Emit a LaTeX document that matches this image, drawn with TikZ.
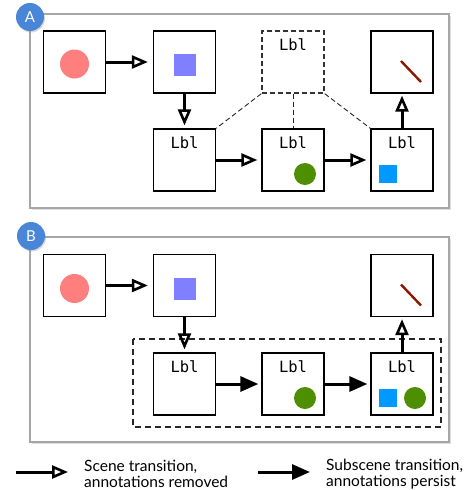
\documentclass[tikz,border=0pt]{standalone}
\usepackage{fontspec}
\setmainfont{Lato}
\setmonofont{DejaVu Sans Mono}
\usetikzlibrary{arrows.meta,shadows}
\definecolor{salmon}{HTML}{FF7F7F}
\definecolor{periwinkle}{HTML}{8080FF}
\definecolor{leaf}{HTML}{4E8F00}
\definecolor{azure}{HTML}{0099FF}
\definecolor{rust}{HTML}{8B1A00}
\definecolor{badgeblue}{HTML}{4A86D8}
\tikzset{
  >=latex,
  panel/.style = {draw=black!35, line width=1.3pt, fill=white,
                  drop shadow={shadow xshift=2pt, shadow yshift=-2pt, opacity=.25}},
  scene/.style = {draw, line width=1.3pt, fill=white, minimum size=62pt, inner sep=0},
  ghost/.style = {scene, dashed, draw=black!80, dash pattern=on 5pt off 3pt},
  lbl/.style = {label={[font=\ttfamily\fontsize{15.5}{15.5}\selectfont, anchor=north,
                inner sep=0, yshift=-8.5pt]north:Lbl}},
  disc/.style = {circle, fill=#1, inner sep=0, minimum size=22pt},
  tile/.style = {rectangle, fill=#1, inner sep=0, minimum size=18pt},
  badge/.style = {circle, fill=badgeblue, text=white, minimum size=28pt, inner sep=0,
                  font=\fontsize{15}{15}\selectfont,
                  drop shadow={shadow xshift=1pt, shadow yshift=-1.5pt, opacity=.3}},
  scenetrans/.style = {-{Triangle[open, length=16pt, width=13pt, line width=2.6pt]},
                  line width=3pt},
  subtrans/.style = {-{Triangle[length=18pt, width=15pt]}, line width=3pt},
  link/.style = {dashed, dash pattern=on 5pt off 3pt, line width=.9pt, black!85},
  group/.style = {draw=black!85, dashed, dash pattern=on 6pt off 4pt, line width=1.1pt},
  key/.style = {anchor=west, align=left, inner sep=0, font=\fontsize{15.5}{16.5}\selectfont},
}
\begin{document}
\begin{tikzpicture}[x=1pt, y=-1pt]
\useasboundingbox (0,0) rectangle (469,490);

% panel A
\draw[panel] (30,14) rectangle (449,208);
\node[badge] (ba) at (30,17) {A};
\node[scene] (a1) at (74.5,62) {};
\node[scene] (a2) at (184.5,62) {};
\node[ghost, lbl] (a4) at (293,62) {};
\node[scene] (a7) at (402,62) {};
\node[scene, lbl] (a3) at (184.5,160) {};
\node[scene, lbl] (a5) at (293,160) {};
\node[scene, lbl] (a6) at (402,160) {};
\node[disc=salmon, minimum size=29pt] (a1c) at ([yshift=-2pt]a1.center) {};
\node[tile=periwinkle, minimum size=22pt] (a2s) at ([yshift=-3pt]a2.center) {};
\node[disc=leaf] (a5c) at ([xshift=12pt,yshift=-14pt]a5.center) {};
\node[tile=azure] (a6s) at ([xshift=-14pt,yshift=-14pt]a6.center) {};
\coordinate (a7p) at ([xshift=-1pt,yshift=1pt]a7.center);
\coordinate (a7q) at ([xshift=19pt,yshift=-20pt]a7.center);
\draw[rust, line width=2.4pt] (a7p) -- (a7q);
\draw[link] (a4.south west) -- (a3.north east);
\draw[link] (a4.south) -- (a5.north);
\draw[link] (a4.south east) -- (a6.north west);
\draw[scenetrans, shorten >=5pt] (a1) -- (a2);
\draw[scenetrans, shorten >=3pt] (a2) -- (a3);
\draw[scenetrans, shorten >=4pt] (a3) -- (a5);
\draw[scenetrans, shorten >=4pt] (a5) -- (a6);
\draw[scenetrans, shorten >=2pt] (a6) -- (a7);

% panel B
\draw[panel] (30,237) rectangle (449,442);
\node[badge] (bb) at (31,236) {B};
\draw[group] (133,339) rectangle (441,427);
\node[scene] (b1) at (74.5,285.5) {};
\node[scene] (b2) at (184.5,285.5) {};
\node[scene] (b7) at (402,285.5) {};
\node[scene, lbl] (b3) at (184.5,384) {};
\node[scene, lbl] (b5) at (293,384) {};
\node[scene, lbl] (b6) at (402,384) {};
\node[disc=salmon, minimum size=29pt] (b1c) at ([yshift=-3pt]b1.center) {};
\node[tile=periwinkle, minimum size=22pt] (b2s) at ([yshift=-3pt]b2.center) {};
\node[disc=leaf] (b5c) at ([xshift=12pt,yshift=-14pt]b5.center) {};
\node[tile=azure] (b6s) at ([xshift=-14pt,yshift=-14pt]b6.center) {};
\node[disc=leaf] (b6c) at ([xshift=13pt,yshift=-14pt]b6.center) {};
\coordinate (b7p) at ([xshift=-1pt,yshift=1pt]b7.center);
\coordinate (b7q) at ([xshift=19pt,yshift=-20pt]b7.center);
\draw[rust, line width=2.4pt] (b7p) -- (b7q);
\draw[scenetrans, shorten >=5pt] (b1) -- (b2);
\draw[scenetrans, shorten >=3pt] (b2) -- (b3);
\draw[subtrans, shorten >=3pt] (b3) -- (b5);
\draw[subtrans, shorten >=3pt] (b5) -- (b6);
\draw[scenetrans, shorten >=2pt] (b6) -- (b7);

% legend
\coordinate (k1s) at (16,472);
\coordinate (k1e) at (68,472);
\coordinate (k2s) at (258,472);
\coordinate (k2e) at (310,472);
\draw[scenetrans] (k1s) -- (k1e);
\draw[subtrans] (k2s) -- (k2e);
\node[key] (k1t) at (84,474) {Scene transition,\\annotations removed};
\node[key] (k2t) at (326,474) {Subscene transition,\\annotations persist};
\end{tikzpicture}
\end{document}
